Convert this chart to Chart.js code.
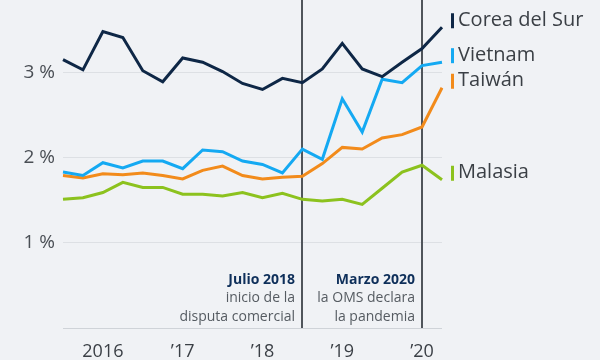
<!DOCTYPE html>
<html>
<head>
<meta charset="utf-8">
<script src="https://cdn.jsdelivr.net/npm/chart.js@4"></script>
<style>
  body { margin: 0; background: #f0f2f5; }
  #wrap { width: 600px; height: 360px; }
</style>
</head>
<body>
<div id="wrap"><canvas id="grafico"></canvas></div>
<script>
/* DATOS - trimestres del T3 2015 al T2 2020 */
const trimestres = ["T3 2015", "T4 2015", "T1 2016", "T2 2016", "T3 2016", "T4 2016",
    "T1 2017", "T2 2017", "T3 2017", "T4 2017", "T1 2018", "T2 2018", "T3 2018",
    "T4 2018", "T1 2019", "T2 2019", "T3 2019", "T4 2019", "T1 2020", "T2 2020"];
const etiquetasAnio = { "T1 2016": "2016", "T1 2017": "\u201917", "T1 2018": "\u201918", "T1 2019": "\u201919", "T1 2020": "\u201920" };

const corea   = [3.15, 3.03, 3.48, 3.41, 3.02, 2.89, 3.17, 3.12, 3.01, 2.87, 2.80, 2.93, 2.88, 3.04, 3.34, 3.04, 2.95, 3.12, 3.28, 3.53];
const vietnam = [1.83, 1.79, 1.94, 1.88, 1.96, 1.96, 1.87, 2.09, 2.07, 1.96, 1.92, 1.82, 2.10, 1.98, 2.69, 2.30, 2.92, 2.88, 3.08, 3.12];
const taiwan  = [1.79, 1.76, 1.81, 1.80, 1.82, 1.79, 1.75, 1.85, 1.90, 1.79, 1.75, 1.77, 1.78, 1.93, 2.12, 2.10, 2.23, 2.27, 2.36, 2.82];
const malasia = [1.51, 1.53, 1.59, 1.71, 1.65, 1.65, 1.57, 1.57, 1.55, 1.59, 1.53, 1.58, 1.51, 1.49, 1.51, 1.45, 1.64, 1.83, 1.91, 1.74];

const ticksY = [0, 1, 2, 3];

const eventos = [
    { trimestre: "T3 2018", titulo: "Julio 2018", texto: ["inicio de la", "disputa comercial"] },
    { trimestre: "T1 2020", titulo: "Marzo 2020", texto: ["la OMS declara", "la pandemia"] }
];

const series = [
    { nombre: "Corea del Sur", datos: corea, color: "#0e2746" },
    { nombre: "Vietnam", datos: vietnam, color: "#14a9f2" },
    { nombre: "Taiwán", datos: taiwan, color: "#f28b1b" },
    { nombre: "Malasia", datos: malasia, color: "#8cc21e" }
];

const fuente = "'Open Sans', 'DejaVu Sans', sans-serif";

/* PLUGIN - lineas de eventos y etiquetas al final */
const extras = {
    id: "extras",
    beforeDatasetsDraw(chart) {
        const ctx = chart.ctx;
        const x = chart.scales.x;
        const area = chart.chartArea;
        ctx.save();
        ctx.strokeStyle = "#50555b";
        ctx.lineWidth = 2;
        eventos.forEach(ev => {
            const px = Math.round(x.getPixelForValue(trimestres.indexOf(ev.trimestre)));
            ctx.beginPath();
            ctx.moveTo(px, area.top);
            ctx.lineTo(px, area.bottom);
            ctx.stroke();
            ctx.textAlign = "right";
            ctx.textBaseline = "middle";
            ctx.font = "bold 14px " + fuente;
            ctx.fillStyle = "#0e2f5a";
            ctx.fillText(ev.titulo, px - 7, 280);
            ctx.font = "14px " + fuente;
            ctx.fillStyle = "#555b61";
            ev.texto.forEach((t, i) => ctx.fillText(t, px - 7, 298 + i * 19));
        });
        ctx.restore();
    },
    afterDatasetsDraw(chart) {
        const ctx = chart.ctx;
        const y = chart.scales.y;
        const derecha = chart.chartArea.right;
        ctx.save();
        ctx.textAlign = "left";
        ctx.textBaseline = "middle";
        ctx.font = "20px " + fuente;
        series.forEach(s => {
            const py = y.getPixelForValue(s.datos[s.datos.length - 1]) - 7;
            ctx.fillStyle = s.color;
            ctx.fillRect(derecha + 9, py - 7, 3, 15);
            ctx.fillStyle = "#3a3f45";
            ctx.fillText(s.nombre, derecha + 16, py);
        });
        ctx.restore();
    }
};

new Chart(document.getElementById("grafico"), {
    type: "line",
    data: {
        labels: trimestres,
        datasets: series.map(s => ({
            label: s.nombre,
            data: s.datos,
            borderColor: s.color,
            borderWidth: 3,
            pointRadius: 0,
            tension: 0,
            fill: false
        }))
    },
    options: {
        responsive: true,
        maintainAspectRatio: false,
        animation: false,
        layout: { padding: { top: 0, right: 158, bottom: 0, left: 0 } },
        plugins: { legend: { display: false }, tooltip: { enabled: false } },
        scales: {
            x: {
                offset: false,
                grid: { display: false },
                border: { display: false },
                afterFit(scale) {
                    scale.height = 32;
                    scale.paddingLeft = 0;
                    scale.paddingRight = 0;
                },
                ticks: {
                    autoSkip: false,
                    maxRotation: 0,
                    padding: 5,
                    color: "#3a3f45",
                    font: { family: fuente, size: 18 },
                    callback(v) { return etiquetasAnio[trimestres[v]] || ""; }
                }
            },
            y: {
                min: 0,
                max: 3.85,
                border: { display: false },
                afterFit(scale) {
                    scale.width = 63;
                    scale.paddingTop = 0;
                    scale.paddingBottom = 0;
                },
                afterBuildTicks(scale) { scale.ticks = ticksY.map(v => ({ value: v })); },
                grid: {
                    drawTicks: false,
                    color: ctx => ctx.tick && ctx.tick.value === 0 ? "#cfd3d8" : "#dde0e4",
                    lineWidth: 1
                },
                ticks: {
                    padding: 8,
                    color: "#4a4f55",
                    font: { family: fuente, size: 19 },
                    callback(v) { return v === 0 ? "" : v + " %"; }
                }
            }
        }
    },
    plugins: [extras]
});
</script>
</body>
</html>
